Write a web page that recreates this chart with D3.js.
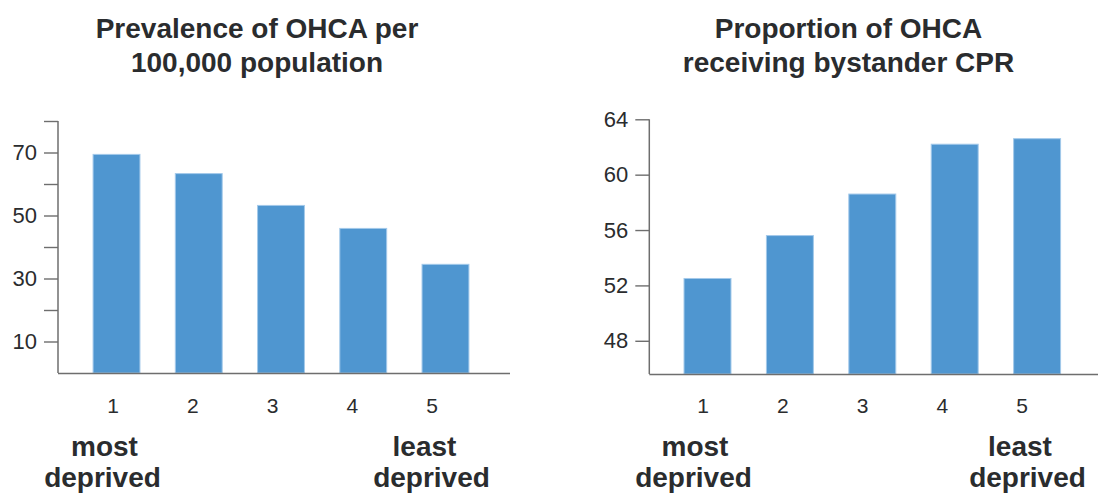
<!DOCTYPE html>
<html>
<head>
<meta charset="utf-8">
<script src="https://cdn.jsdelivr.net/npm/d3@7"></script>
<style>
  body { margin: 0; background: #fff; }
  text { font-family: "Liberation Sans", Arial, sans-serif; fill: #2a2c2e; }
</style>
</head>
<body>
<div id="chart"></div>
<script>
// quintiles of deprivation
var categories = ["1", "2", "3", "4", "5"];
// OHCA per 100,000 population
var prevalence = [69.4, 63.3, 53.2, 45.9, 34.5];
// % of OHCA receiving bystander CPR
var cprProportion = [52.5, 55.6, 58.6, 62.2, 62.6];
var prevalenceTicks = [10, 20, 30, 40, 50, 60, 70, 80];
var prevalenceLabels = [10, 30, 50, 70];
var cprTicks = [48, 52, 56, 60, 64];
var titlesLeft = ["Prevalence of OHCA per", "100,000 population"];
var titlesRight = ["Proportion of OHCA", "receiving bystander CPR"];
var endLabelsLow = ["most", "deprived"];
var endLabelsHigh = ["least", "deprived"];

var W = 1098, H = 493;
var svg = d3.select("#chart").append("svg").attr("width", W).attr("height", H);

var axisColor = "#6e6e6e";

function drawPanel(opts) {
  var g = svg.append("g");

  var x = d3.scaleBand().domain(categories)
    .range(opts.bandRange).paddingInner(0.43).paddingOuter(0.215);
  // tick labels sit slightly off the bar centres in the original
  var xl = d3.scalePoint().domain(categories).range(opts.labelRange);
  var y = d3.scaleLinear().domain(opts.yDomain).range([opts.baseY, opts.topY]);

  // bars
  g.selectAll(".bar").data(opts.values).enter().append("rect")
    .attr("class", "bar")
    .attr("x", function (d, i) { return x(categories[i]); })
    .attr("width", x.bandwidth())
    .attr("y", function (d) { return y(d); })
    .attr("height", function (d) { return opts.baseY - y(d); })
    .attr("fill", "#4f96d0")
    .attr("stroke", "#a3c9ea")
    .attr("stroke-width", 1);

  // y axis
  var yAxis = d3.axisLeft(y).tickValues(opts.ticks).tickSize(14).tickPadding(7)
    .tickFormat(function (d) { return opts.labels.indexOf(d) >= 0 ? d : ""; });
  var ya = g.append("g").attr("transform", "translate(" + opts.axisX + ",0)").call(yAxis);
  ya.attr("font-size", null).attr("font-family", null);
  ya.select(".domain").remove();
  ya.selectAll(".tick line").attr("stroke", axisColor).attr("stroke-width", 1.4);
  ya.selectAll(".tick text").style("font-size", "22px").attr("fill", "#2a2c2e");
  g.append("line")
    .attr("x1", opts.axisX).attr("x2", opts.axisX)
    .attr("y1", opts.topY).attr("y2", opts.baseY)
    .attr("stroke", axisColor).attr("stroke-width", 1.5);

  // x axis line
  g.append("line")
    .attr("x1", opts.axisX).attr("x2", opts.axisEnd)
    .attr("y1", opts.baseY + 0.5).attr("y2", opts.baseY + 0.5)
    .attr("stroke", axisColor).attr("stroke-width", 1.6);

  // x tick labels
  g.selectAll(".xl").data(categories).enter().append("text")
    .attr("x", function (d) { return xl(d); })
    .attr("y", 413)
    .attr("text-anchor", "middle")
    .style("font-size", "21px")
    .text(function (d) { return d; });

  // titles
  opts.title.forEach(function (t, i) {
    g.append("text")
      .attr("x", opts.titleX).attr("y", 38 + i * 33.5)
      .attr("text-anchor", "middle")
      .style("font-size", "28px").attr("font-weight", "bold")
      .text(t);
  });

  // end labels
  function endLabel(words, xs) {
    words.forEach(function (w, i) {
      g.append("text")
        .attr("x", xs[i]).attr("y", 456 + i * 31)
        .attr("text-anchor", "middle")
        .style("font-size", "28px").attr("font-weight", "bold")
        .text(w);
    });
  }
  endLabel(endLabelsLow, opts.lowX);
  endLabel(endLabelsHigh, opts.highX);
}

drawPanel({
  values: prevalence,
  yDomain: [0, 80],
  ticks: prevalenceTicks,
  labels: prevalenceLabels,
  baseY: 373, topY: 121,
  axisX: 58, axisEnd: 510,
  bandRange: [75.4, 486.6],
  labelRange: [113, 432],
  title: titlesLeft, titleX: 257,
  lowX: [104.5, 102.5], highX: [424.5, 431.5]
});

drawPanel({
  values: cprProportion,
  yDomain: [45.6, 64],
  ticks: cprTicks,
  labels: cprTicks,
  baseY: 374, topY: 119.3,
  axisX: 649.3, axisEnd: 1098,
  bandRange: [666.3, 1078.3],
  labelRange: [703, 1022],
  title: titlesRight, titleX: 848.5,
  lowX: [695, 693.5], highX: [1020, 1027.5]
});
</script>
</body>
</html>
